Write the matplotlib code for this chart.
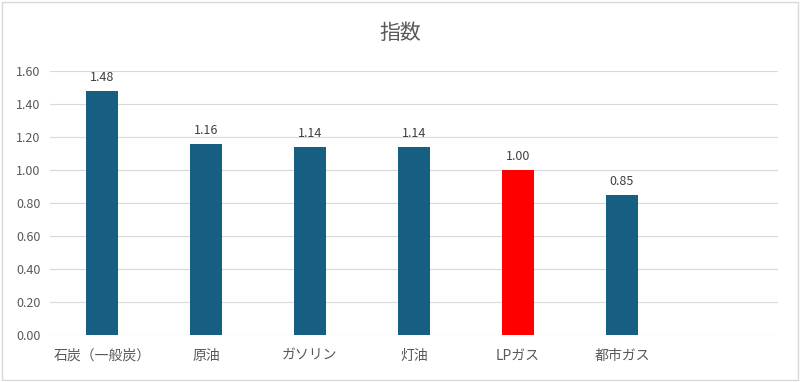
import matplotlib
matplotlib.use("Agg")
import matplotlib.pyplot as plt
from matplotlib.patches import Rectangle

plt.rcParams['font.family'] = ['Noto Sans CJK JP', 'DejaVu Sans']

categories = ["石炭（一般炭）", "原油", "ガソリン", "灯油", "LPガス", "都市ガス", ""]
values = [1.48, 1.16, 1.14, 1.14, 1.00, 0.85, None]
colors = ["#175F82", "#175F82", "#175F82", "#175F82", "#FF0000", "#175F82", "#175F82"]
yticks = [0.0, 0.2, 0.4, 0.6, 0.8, 1.0, 1.2, 1.4, 1.6]

fig = plt.figure(figsize=(8, 3.82), dpi=100)
ax = fig.add_axes([0.0625, 0.123, 0.91, 0.691])

xs = list(range(len(categories)))
for x, v, c in zip(xs, values, colors):
    if v is None:
        continue
    ax.bar(x, v, width=0.31, color=c, zorder=3)
    ax.text(x, v + 0.04, f"{v:.2f}", ha="center", va="bottom", fontsize=9, color="#404040")

ax.set_xlim(-0.5, len(categories) - 0.5)
ax.set_ylim(0, 1.6)
ax.set_yticks(yticks)
ax.set_yticklabels([f"{t:.2f}" for t in yticks], fontsize=9, color="#595959")
ax.set_xticks(xs)
ax.set_xticklabels(categories, fontsize=10, color="#595959")
ax.tick_params(length=0, pad=7)
ax.tick_params(axis='x', pad=10)
ax.grid(axis='y', color="#D9D9D9", linewidth=0.8, zorder=0)
for s in ax.spines.values():
    s.set_visible(False)
ax.axhline(0, color="#D9D9D9", linewidth=0.8, zorder=2)

fig.text(0.5, 0.915, "指数", ha="center", va="center", fontsize=15, color="#595959")
fig.patches.append(Rectangle((0.003, 0.005), 0.994, 0.99, transform=fig.transFigure,
                             fill=False, edgecolor="#D9D9D9", linewidth=1.0))

fig.savefig("out.png", dpi=100)
